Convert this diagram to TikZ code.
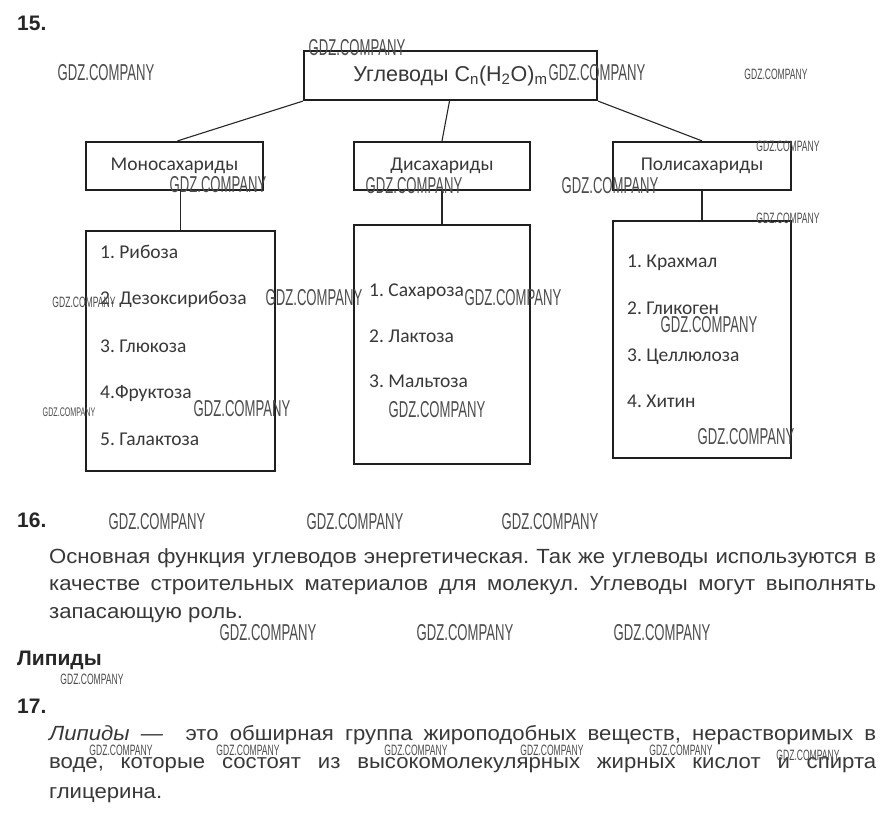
\documentclass[tikz,border=0pt]{standalone}
\usepackage{fontspec}
\setmainfont{Liberation Sans}
\newfontfamily\carlito{Carlito}
\newfontfamily\parafont[FakeStretch=1.08]{Liberation Sans}
\newfontfamily\wmfont[FakeStretch=0.57]{Liberation Sans}
\definecolor{ink}{gray}{0.22}
\definecolor{wm}{gray}{0.3}
\frenchspacing
\tikzset{
  box/.style={draw=black!88, line width=2.2pt, inner sep=0pt},
  conn/.style={draw=black!85, line width=1.1pt},
  head/.style={font=\carlito\fontsize{19.5}{22}\selectfont, text=ink},
  item/.style={anchor=base west, inner sep=0pt, font=\carlito\fontsize{19.5}{22}\selectfont, text=ink},
  num/.style={anchor=base west, inner sep=0pt, font=\bfseries\fontsize{21}{24}\selectfont, text=black!85},
  para/.style={anchor=base west, inner sep=0pt, font=\parafont\fontsize{20.5}{24}\selectfont, text=ink},
  wmL/.style={inner sep=0pt, text=wm, font=\wmfont\fontsize{23}{25}\selectfont},
  wmS/.style={inner sep=0pt, text=wm, font=\wmfont\fontsize{15}{17}\selectfont},
  wmT/.style={inner sep=0pt, text=wm, font=\wmfont\fontsize{12.5}{14}\selectfont},
}
\begin{document}
\begin{tikzpicture}[x=1pt,y=-1pt]
\useasboundingbox (0,0) rectangle (887,816);
\fill[white] (0,0) rectangle (887,816);

% section 15
\node[num] (n15) at (17,31) {15.};

\node[box, minimum width=293pt, minimum height=49pt, font=\fontsize{21.5}{24}\selectfont, text=ink] (top) at (450.5,75.5)
  {Углеводы C\textsubscript{n}(H\textsubscript{2}O)\textsubscript{m}};

\node[box, head, minimum width=177pt, minimum height=48pt] (mono) at (174.5,166) {Моносахариды};
\node[box, head, minimum width=176pt, minimum height=48pt] (di) at (442,166) {Дисахариды};
\node[box, head, minimum width=178pt, minimum height=48pt] (poly) at (702,166) {Полисахариды};

\node[box, minimum width=189pt, minimum height=240pt] (monolist) at (180.5,351) {};
\node[box, minimum width=176pt, minimum height=239pt] (dilist) at (442,344.5) {};
\node[box, minimum width=178pt, minimum height=237pt] (polylist) at (702,339.5) {};

\draw[conn] (top.south west) -- ([xshift=3pt]mono.north);
\draw[conn] ([xshift=-1pt]top.south) -- (di.north);
\draw[conn] (top.south east) -- (poly.north);
\draw[conn] (monolist.north |- mono.south) -- (monolist.north);
\draw[conn] (di.south) -- (dilist.north);
\draw[conn] (poly.south) -- (polylist.north);

\node[item] (m1) at (100,258) {1. Рибоза};
\node[item] (m2) at (100,304) {2. Дезоксирибоза};
\node[item] (m3) at (100,352) {3. Глюкоза};
\node[item] (m4) at (100,398) {4.Фруктоза};
\node[item] (m5) at (100,445) {5. Галактоза};

\node[item] (d1) at (369,296) {1. Сахароза};
\node[item] (d2) at (369,342) {2. Лактоза};
\node[item] (d3) at (369,387) {3. Мальтоза};

\node[item] (p1) at (627,267) {1. Крахмал};
\node[item] (p2) at (627,314) {2. Гликоген};
\node[item] (p3) at (627,361) {3. Целлюлоза};
\node[item] (p4) at (627,407) {4. Хитин};

% section 16
\node[num] (n16) at (17,527) {16.};
\node[para] (t16a) at (49,563) {\makebox[827pt][s]{Основная функция углеводов энергетическая. Так же углеводы используются в}};
\node[para] (t16b) at (49,590) {\makebox[827pt][s]{качестве строительных материалов для молекул. Углеводы могут выполнять}};
\node[para] (t16c) at (49,618) {запасающую роль.};

\node[num] (lip) at (17,665) {Липиды};
\node[num] (n17) at (17,713) {17.};
\node[para] (t17a) at (49,740) {\makebox[827pt][s]{\textit{Липиды —}\ \ это обширная группа жироподобных веществ, нерастворимых в}};
\node[para] (t17b) at (49,768) {\makebox[827pt][s]{воде, которые состоят из высокомолекулярных жирных кислот и спирта}};
\node[para] (t17c) at (49,798) {глицерина.};

% watermarks
\node[wmL] (w1) at (357,48) {GDZ.COMPANY};
\node[wmL] (w2) at (106,73) {GDZ.COMPANY};
\node[wmL] (w3) at (597,73) {GDZ.COMPANY};
\node[wmS] (w4) at (776,74) {GDZ.COMPANY};
\node[wmS] (w5) at (788,146) {GDZ.COMPANY};
\node[wmL] (w6) at (218,185) {GDZ.COMPANY};
\node[wmL] (w7) at (414,186) {GDZ.COMPANY};
\node[wmL] (w8) at (610,186) {GDZ.COMPANY};
\node[wmS] (w9) at (788,218) {GDZ.COMPANY};
\node[wmS] (w10) at (84,302) {GDZ.COMPANY};
\node[wmL] (w11) at (314,298) {GDZ.COMPANY};
\node[wmL] (w12) at (513,298) {GDZ.COMPANY};
\node[wmL] (w13) at (709,325) {GDZ.COMPANY};
\node[wmT] (w14) at (69,412) {GDZ.COMPANY};
\node[wmL] (w15) at (242,409) {GDZ.COMPANY};
\node[wmL] (w16) at (437,410) {GDZ.COMPANY};
\node[wmL] (w17) at (746,437) {GDZ.COMPANY};
\node[wmL] (w18) at (157,522) {GDZ.COMPANY};
\node[wmL] (w19) at (355,522) {GDZ.COMPANY};
\node[wmL] (w20) at (550,522) {GDZ.COMPANY};
\node[wmL] (w21) at (268,633) {GDZ.COMPANY};
\node[wmL] (w22) at (465,633) {GDZ.COMPANY};
\node[wmL] (w23) at (662,633) {GDZ.COMPANY};
\node[wmS] (w24) at (92,679) {GDZ.COMPANY};
\node[wmS] (w25) at (121,750) {GDZ.COMPANY};
\node[wmS] (w26) at (248,750) {GDZ.COMPANY};
\node[wmS] (w27) at (416,750) {GDZ.COMPANY};
\node[wmS] (w28) at (552,750) {GDZ.COMPANY};
\node[wmS] (w29) at (681,750) {GDZ.COMPANY};
\node[wmS] (w30) at (808,755) {GDZ.COMPANY};
\end{tikzpicture}
\end{document}
